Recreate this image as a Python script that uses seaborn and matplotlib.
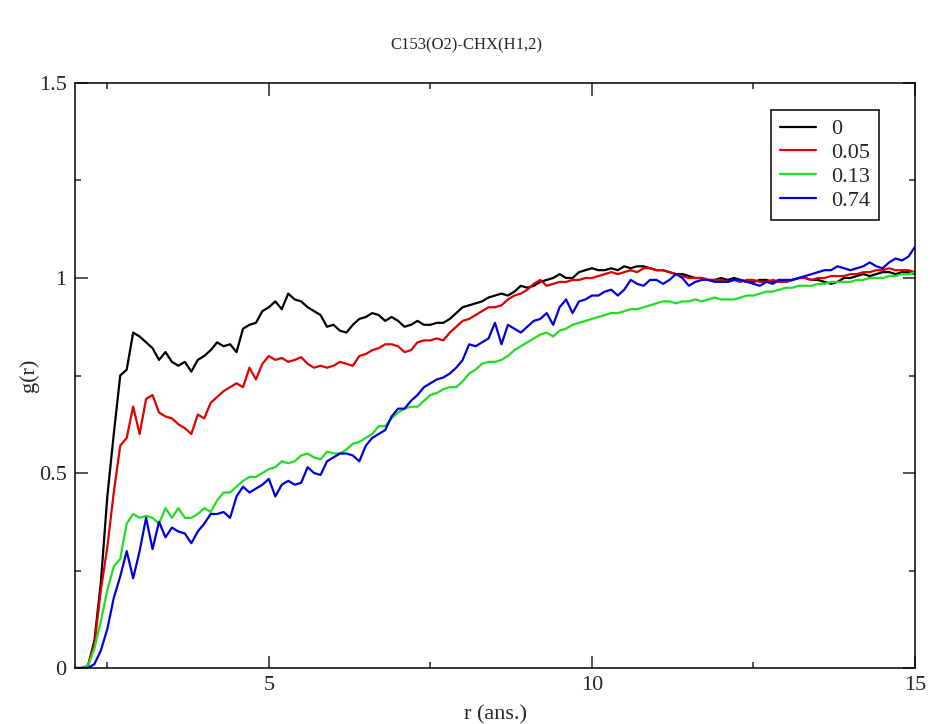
import numpy as np
import pandas as pd
import seaborn as sns
from matplotlib import pyplot as plt
from matplotlib.ticker import MultipleLocator

# r grid (ans.), 0.1 step from 2 to 15
r = np.round(np.arange(20, 151) / 10, 1)

labels = ['0', '0.05', '0.13', '0.74']
colors = ['#000000', '#e00000', '#22dd22', '#0000dd']

g_0 = [
    0, 0, 0.005, 0.07, 0.22, 0.44, 0.60, 0.75, 0.765, 0.86,
    0.85, 0.835, 0.82, 0.79, 0.81, 0.785, 0.775, 0.785, 0.76, 0.79,
    0.80, 0.815, 0.835, 0.825, 0.83, 0.81, 0.87, 0.88, 0.885, 0.915,
    0.925, 0.94, 0.92, 0.96, 0.945, 0.94, 0.925, 0.915, 0.905, 0.875,
    0.88, 0.865, 0.86, 0.88, 0.895, 0.90, 0.91, 0.905, 0.89, 0.90,
    0.89, 0.875, 0.88, 0.89, 0.88, 0.88, 0.885, 0.885, 0.895, 0.91,
    0.925, 0.93, 0.935, 0.94, 0.95, 0.955, 0.96, 0.955, 0.965, 0.98,
    0.975, 0.98, 0.99, 0.995, 1.0, 1.01, 1.0, 1.0, 1.015, 1.02,
    1.025, 1.02, 1.02, 1.025, 1.02, 1.03, 1.025, 1.03, 1.03, 1.025,
    1.02, 1.02, 1.015, 1.01, 1.01, 1.005, 1.0, 1.0, 0.995, 0.995,
    1.0, 0.995, 1.0, 0.995, 0.99, 0.99, 0.995, 0.995, 0.99, 0.995,
    0.99, 0.995, 1.0, 1.0, 0.995, 0.995, 0.99, 0.985, 0.99, 1.0,
    1.0, 1.005, 1.01, 1.005, 1.01, 1.015, 1.015, 1.01, 1.015, 1.015,
    1.01]

g_005 = [
    0, 0, 0.005, 0.06, 0.20, 0.31, 0.45, 0.57, 0.59, 0.67,
    0.60, 0.69, 0.70, 0.655, 0.645, 0.64, 0.625, 0.615, 0.60, 0.65,
    0.64, 0.68, 0.695, 0.71, 0.72, 0.73, 0.72, 0.77, 0.74, 0.78,
    0.80, 0.79, 0.795, 0.785, 0.79, 0.797, 0.78, 0.77, 0.775, 0.77,
    0.775, 0.785, 0.78, 0.775, 0.80, 0.805, 0.815, 0.82, 0.83, 0.83,
    0.825, 0.81, 0.815, 0.835, 0.84, 0.84, 0.845, 0.84, 0.86, 0.875,
    0.89, 0.895, 0.905, 0.915, 0.925, 0.925, 0.93, 0.945, 0.955, 0.96,
    0.97, 0.985, 0.995, 0.98, 0.985, 0.99, 0.99, 0.995, 0.995, 1.0,
    1.0, 1.005, 1.01, 1.015, 1.01, 1.015, 1.02, 1.015, 1.025, 1.025,
    1.02, 1.02, 1.015, 1.01, 1.005, 1.0, 1.0, 1.0, 0.995, 0.995,
    0.995, 0.99, 0.995, 0.99, 0.995, 0.995, 0.99, 0.99, 0.995, 0.99,
    0.99, 0.995, 1.0, 1.0, 0.995, 1.0, 1.0, 1.005, 1.005, 1.005,
    1.01, 1.01, 1.015, 1.015, 1.02, 1.02, 1.025, 1.02, 1.02, 1.02,
    1.015]

g_013 = [
    0, 0, 0.005, 0.05, 0.12, 0.20, 0.26, 0.28, 0.37, 0.395,
    0.385, 0.39, 0.385, 0.37, 0.41, 0.385, 0.41, 0.385, 0.385, 0.395,
    0.41, 0.40, 0.43, 0.45, 0.45, 0.465, 0.48, 0.49, 0.49, 0.50,
    0.51, 0.515, 0.53, 0.525, 0.53, 0.545, 0.55, 0.54, 0.535, 0.555,
    0.55, 0.55, 0.56, 0.575, 0.58, 0.59, 0.60, 0.62, 0.62, 0.64,
    0.655, 0.665, 0.67, 0.67, 0.685, 0.70, 0.705, 0.715, 0.72, 0.72,
    0.735, 0.755, 0.765, 0.78, 0.785, 0.785, 0.79, 0.80, 0.815, 0.825,
    0.835, 0.845, 0.855, 0.86, 0.85, 0.865, 0.87, 0.88, 0.885, 0.89,
    0.895, 0.9, 0.905, 0.91, 0.91, 0.915, 0.92, 0.92, 0.925, 0.93,
    0.935, 0.94, 0.94, 0.935, 0.94, 0.94, 0.945, 0.94, 0.945, 0.95,
    0.945, 0.945, 0.945, 0.95, 0.955, 0.955, 0.96, 0.965, 0.965, 0.97,
    0.975, 0.975, 0.98, 0.98, 0.98, 0.985, 0.985, 0.99, 0.99, 0.99,
    0.99, 0.995, 0.995, 1.0, 1.0, 1.0, 1.005, 1.005, 1.01, 1.01,
    1.015]

g_074 = [
    0, 0, 0, 0.01, 0.045, 0.10, 0.18, 0.235, 0.30, 0.23,
    0.30, 0.385, 0.305, 0.375, 0.335, 0.36, 0.35, 0.345, 0.32, 0.35,
    0.37, 0.395, 0.395, 0.40, 0.385, 0.44, 0.465, 0.45, 0.46, 0.47,
    0.485, 0.44, 0.47, 0.48, 0.47, 0.475, 0.515, 0.50, 0.495, 0.53,
    0.54, 0.55, 0.55, 0.545, 0.53, 0.57, 0.59, 0.60, 0.61, 0.645,
    0.665, 0.665, 0.685, 0.70, 0.72, 0.73, 0.74, 0.745, 0.755, 0.77,
    0.79, 0.83, 0.825, 0.835, 0.845, 0.885, 0.83, 0.88, 0.87, 0.86,
    0.875, 0.89, 0.895, 0.91, 0.88, 0.925, 0.945, 0.91, 0.94, 0.945,
    0.955, 0.955, 0.965, 0.97, 0.955, 0.97, 0.995, 0.985, 0.98, 0.995,
    0.995, 0.985, 0.995, 1.01, 1.0, 0.98, 0.99, 0.995, 0.995, 0.99,
    0.99, 0.99, 0.995, 0.995, 0.99, 0.985, 0.98, 0.99, 0.985, 0.995,
    0.995, 0.995, 1.0, 1.005, 1.01, 1.015, 1.02, 1.02, 1.03, 1.025,
    1.02, 1.025, 1.03, 1.04, 1.03, 1.025, 1.04, 1.05, 1.045, 1.055,
    1.08]

series = [g_0, g_005, g_013, g_074]
df = pd.concat([pd.DataFrame({'r': r, 'g': s, 'set': lab}) for s, lab in zip(series, labels)],
               ignore_index=True)

sns.set_style('ticks')
plt.rcParams['font.family'] = ['Liberation Serif', 'DejaVu Serif']

fig = plt.figure(figsize=(9.33, 7.24), dpi=100)
ax = fig.add_axes([0.0804, 0.0773, 0.9003, 0.8081])
sns.lineplot(data=df, x='r', y='g', hue='set', hue_order=labels,
             palette=dict(zip(labels, colors)), linewidth=1.6, ax=ax)

ax.set_xlim(2, 15)
ax.set_ylim(0, 1.5)
ax.xaxis.set_major_locator(MultipleLocator(5))
ax.xaxis.set_minor_locator(MultipleLocator(2.5))
ax.yaxis.set_major_locator(MultipleLocator(0.5))
ax.yaxis.set_minor_locator(MultipleLocator(0.25))
ax.set_yticks([0, 0.5, 1, 1.5], ['0', '0.5', '1', '1.5'])
ax.tick_params(which='both', direction='in', top=True, right=True, width=1.1, labelsize=16, pad=6)
ax.tick_params(which='major', length=9)
ax.tick_params(which='minor', length=4.5)
for sp in ax.spines.values():
    sp.set_linewidth(1.1)
    sp.set_color('black')

ax.set_xlabel('r (ans.)', fontsize=16, labelpad=7)
ax.set_ylabel('g(r)', fontsize=16, labelpad=0)
fig.suptitle('C153(O2)-CHX(H1,2)', fontsize=12, y=0.948)

leg = ax.legend(loc='upper left', bbox_to_anchor=(0.829, 0.954), fontsize=16,
                frameon=True, fancybox=False, edgecolor='black', framealpha=1,
                borderpad=0.4, labelspacing=0.15, handlelength=1.6, handletextpad=0.7,
                borderaxespad=0)
leg.get_frame().set_linewidth(1.1)

plt.savefig('out.png', dpi=100)
